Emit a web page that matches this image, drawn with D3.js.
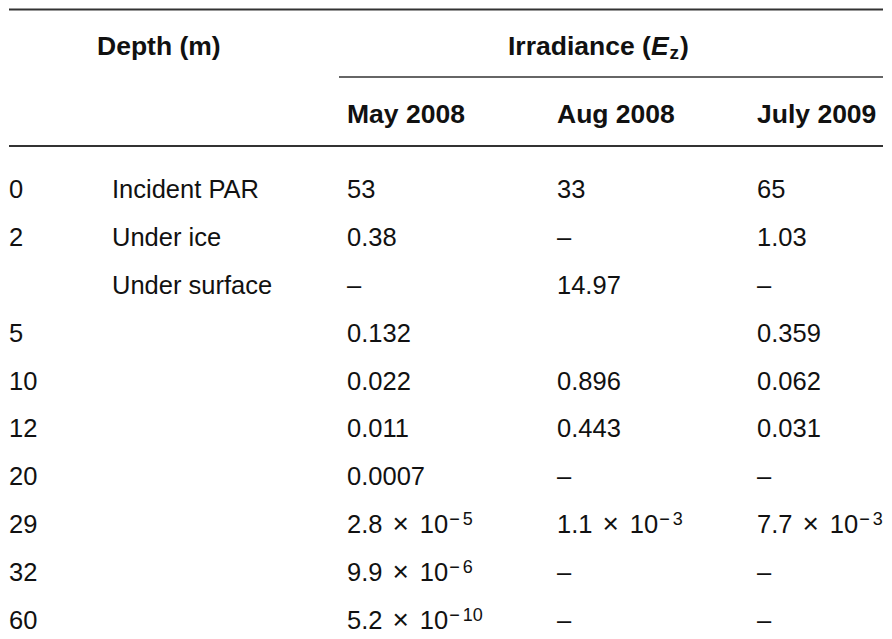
<!DOCTYPE html>
<html>
<head>
<meta charset="utf-8">
<script src="https://cdn.jsdelivr.net/npm/d3@7"></script>
<style>
  body { margin: 0; background: #fff; }
  text { font-family: "Liberation Sans", Arial, Helvetica, sans-serif; fill: #111; }
</style>
</head>
<body>
<div id="table"></div>
<script>
// table contents
var depths = ["0", "2", "", "5", "10", "12", "20", "29", "32", "60"];
var notes = ["Incident PAR", "Under ice", "Under surface", "", "", "", "", "", "", ""];
var columns = ["May 2008", "Aug 2008", "July 2009"];
// values: plain strings, or [mantissa, exponent] for scientific notation
var may2008 = ["53", "0.38", "–", "0.132", "0.022", "0.011", "0.0007", ["2.8", "5"], ["9.9", "6"], ["5.2", "10"]];
var aug2008 = ["33", "–", "14.97", "", "0.896", "0.443", "–", ["1.1", "3"], "–", "–"];
var july2009 = ["65", "1.03", "–", "0.359", "0.062", "0.031", "–", ["7.7", "3"], "–", "–"];

var svgWidth = 892;
var svgHeight = 639;

var svg = d3.select("#table")
  .append("svg")
  .attr("width", svgWidth)
  .attr("height", svgHeight);

// row positions (text baselines)
var yRow = d3.scalePoint()
  .domain(d3.range(depths.length))
  .range([198, 629]);

// column left edges
var xCol = d3.scaleOrdinal()
  .domain(["depth", "note", "May 2008", "Aug 2008", "July 2009"])
  .range([9, 112, 347, 557, 757]);

// rules
svg.append("line").attr("x1", 9).attr("x2", 883).attr("y1", 9.5).attr("y2", 9.5)
  .attr("stroke", "#333").attr("stroke-width", 2);
svg.append("line").attr("x1", 339).attr("x2", 883).attr("y1", 77).attr("y2", 77)
  .attr("stroke", "#333").attr("stroke-width", 1.4);
svg.append("line").attr("x1", 9).attr("x2", 883).attr("y1", 146).attr("y2", 146)
  .attr("stroke", "#333").attr("stroke-width", 2);

// header
var head = svg.append("g")
  .attr("font-weight", "bold")
  .attr("font-size", "26.5px");

head.append("text")
  .attr("x", 97)
  .attr("y", 55)
  .text("Depth (m)");

var irr = head.append("text")
  .attr("x", 508)
  .attr("y", 55);
irr.append("tspan").text("Irradiance (");
irr.append("tspan").attr("font-style", "italic").text("E");
irr.append("tspan").attr("font-size", "19px").attr("dy", 4).attr("dx", 1).text("z");
irr.append("tspan").attr("dy", -4).attr("dx", 1).text(")");

head.selectAll(".colhead")
  .data(columns)
  .enter()
  .append("text")
  .attr("class", "colhead")
  .attr("x", d => xCol(d))
  .attr("y", 123)
  .text(d => d);

// body
var body = svg.append("g")
  .attr("font-size", "25.5px");

body.selectAll(".depth")
  .data(depths)
  .enter()
  .append("text")
  .attr("class", "depth")
  .attr("x", xCol("depth"))
  .attr("y", (d, i) => yRow(i))
  .text(d => d);

body.selectAll(".note")
  .data(notes)
  .enter()
  .append("text")
  .attr("class", "note")
  .attr("x", xCol("note"))
  .attr("y", (d, i) => yRow(i))
  .text(d => d);

// scientific notation: mantissa × 10 with raised negative exponent
function drawValue(sel, d) {
  if (Array.isArray(d)) {
    sel.append("tspan").text(d[0]);
    sel.append("tspan").attr("dx", 10).attr("font-size", "28px").text("×");
    sel.append("tspan").attr("dx", 11).text("10");
    sel.append("tspan").attr("font-size", "18px").attr("dy", -8).attr("dx", 1)
      .attr("letter-spacing", "3px").text("−");
    sel.append("tspan").attr("font-size", "18px").text(d[1]);
  } else {
    sel.text(d);
  }
}

[may2008, aug2008, july2009].forEach(function(series, c) {
  body.selectAll(".val" + c)
    .data(series)
    .enter()
    .append("text")
    .attr("class", "val" + c)
    .attr("x", xCol(columns[c]))
    .attr("y", (d, i) => yRow(i))
    .each(function(d) { drawValue(d3.select(this), d); });
});
</script>
</body>
</html>
